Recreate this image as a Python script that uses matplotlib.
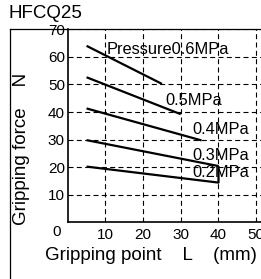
import numpy as np
import matplotlib
matplotlib.use("Agg")
import matplotlib.pyplot as plt
from matplotlib.lines import Line2D

plt.rcParams['font.family'] = ['Liberation Sans', 'DejaVu Sans']

# gripping force (N) vs gripping point L (mm), per pressure
x_06 = [5, 25]
y_06 = [64, 50.2]
x_05 = [5, 30]
y_05 = [52.6, 39.2]
x_04 = [5, 35.5]
y_04 = [41.3, 29.7]
x_03 = [5, 40]
y_03 = [29.8, 20.4]
x_02 = [5, 40, 40]
y_02 = [20.2, 14.4, 20.4]

labels = ["Pressure0.6MPa", "0.5MPa", "0.4MPa", "0.3MPa", "0.2MPa"]
label_x = [10.2, 25.8, 33.2, 33.2, 33.2]
label_y = [62.5, 44.3, 33.5, 24.4, 18.0]

xticks = [10, 20, 30, 40, 50]
yticks = [10, 20, 30, 40, 50, 60, 70]

W, H = 261, 279
fig = plt.figure(figsize=(W / 100, H / 100), dpi=100)

def px(x, y):
    return x / W, 1 - y / H

# axes: x=0 at px 67.7, 3.77 px per mm; y=0 at px 222.3, y=70 at px 29.3
left, bottom = 67.7 / W, (H - 222.3) / H
ax = fig.add_axes([left, bottom, 55 * 3.77 / W, 193 / H])
ax.set_xlim(0, 55)
ax.set_ylim(0, 70)

ax.grid(True, color="black", linestyle=(0, (4.5, 3)), linewidth=0.8)
ax.set_xticks(xticks)
ax.set_yticks(yticks)
ax.tick_params(length=0, labelsize=11, colors="black")
ax.tick_params(axis="x", pad=4)
ax.tick_params(axis="y", pad=2)
for s in ["top", "right"]:
    ax.spines[s].set_visible(False)
for s in ["left", "bottom"]:
    ax.spines[s].set_linewidth(1.2)

for xs, ys in [(x_06, y_06), (x_05, y_05), (x_04, y_04), (x_03, y_03), (x_02, y_02)]:
    ax.plot(xs, ys, color="black", linewidth=1.6, solid_capstyle="butt")

for t, lx, ly in zip(labels, label_x, label_y):
    ax.text(lx, ly, t, fontsize=11.8, ha="left", va="center")

# corner zero
fig.text(*px(57, 232), "0", fontsize=11, ha="center", va="center")

# frame around chart
fig.add_artist(Line2D([10 / W, 10 / W], [0, 1 - 29.3 / H], color="black", linewidth=0.9))
fig.add_artist(Line2D([10 / W, 1], [1 - 29.3 / H, 1 - 29.3 / H], color="black", linewidth=0.9))

fig.text(*px(9, 14), "HFCQ25", fontsize=13.5, ha="left", va="center")
fig.text(*px(22, 149), "Gripping force    N", fontsize=13.5, rotation=90, ha="center", va="center")
fig.text(*px(45, 255), "Gripping point    L    (mm)", fontsize=13.5, ha="left", va="center")

fig.savefig("out.png", dpi=100)
